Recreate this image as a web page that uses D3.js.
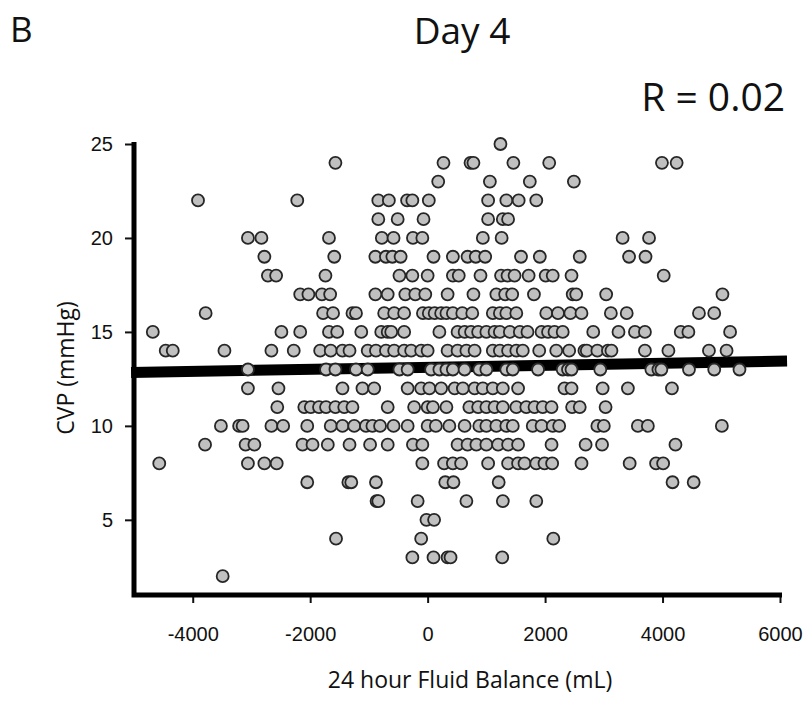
<!DOCTYPE html>
<html>
<head>
<meta charset="utf-8">
<script src="https://cdn.jsdelivr.net/npm/d3@7"></script>
<style>
  body { margin: 0; background: #fff; }
  text { fill: #111; }
</style>
</head>
<body>
<div id="chart"></div>
<script>

// CVP levels (mmHg) and the fluid balance (mL) of every point on each level
var cvpLevels = [25, 24, 23, 22, 21, 20, 19, 18, 17, 16, 15, 14, 13, 12, 11, 10, 9, 8, 7, 6, 5, 4, 3, 2]
var fluidByLevel = [
  [1240],
  [-1570, 270, 730, 780, 1460, 2070, 3990, 4240],
  [180, 1060, 1740, 2490],
  [-3910, -2220, -840, -660, -350, -260, 20, 1030, 1340, 1550, 1850],
  [-840, -510, -70, 1030, 1280, 1370],
  [-3060, -2830, -1680, -780, -580, -250, -90, 940, 1260, 3320, 3770],
  [-2780, -1590, -890, -710, -600, -460, 100, 430, 680, 820, 980, 1590, 1910, 2590, 3430, 3710],
  [-2720, -2580, -1740, -480, -260, 0, 430, 530, 900, 1250, 1360, 1480, 1720, 2010, 2130, 2450, 4020],
  [-2170, -2030, -1800, -1660, -890, -680, -380, -210, -40, 340, 780, 1170, 1320, 1440, 1810, 2470, 2530, 3040, 5020],
  [-3780, -1780, -1610, -1280, -1220, -740, -570, -400, -80, 20, 120, 230, 320, 430, 590, 760, 1110, 1230, 1340, 1510, 2020, 2220, 2430, 2620, 3120, 3390, 4620, 4880],
  [-4680, -2490, -2170, -1680, -1540, -1130, -790, -680, -620, -400, 200, 510, 630, 740, 860, 1000, 1140, 1230, 1400, 1570, 1700, 1940, 2050, 2160, 2300, 2820, 3250, 3530, 3700, 4310, 4440, 5150],
  [-4460, -4340, -3460, -2660, -2280, -1830, -1650, -1450, -1330, -1020, -880, -710, -570, -400, -280, -110, 0, 340, 510, 660, 800, 1110, 1230, 1370, 1510, 1620, 1900, 2190, 2410, 2670, 2710, 2890, 3070, 3130, 3700, 4100, 4790, 5090],
  [-3060, -1730, -1570, -1220, -1020, -480, -340, 60, 200, 320, 430, 630, 880, 1000, 1340, 1450, 1880, 2300, 2390, 2450, 2940, 3810, 3930, 3980, 4450, 4880, 5310],
  [-3060, -2540, -1450, -1110, -910, -340, -110, 30, 230, 460, 600, 800, 940, 1110, 1280, 1540, 2330, 2450, 2980, 3410, 4160],
  [-2560, -2100, -1990, -1850, -1730, -1570, -1420, -1280, -680, -230, 0, 90, 320, 710, 860, 1000, 1140, 1280, 1510, 1680, 1820, 1960, 2110, 2460, 2590, 3030],
  [-3520, -3210, -3150, -2660, -2460, -2050, -1650, -1450, -1250, -1050, -940, -810, -580, -340, 0, 140, 370, 630, 880, 1000, 1170, 1340, 1450, 1790, 1940, 2130, 2240, 2890, 3000, 3580, 3750, 5010],
  [-3790, -3100, -2950, -2130, -1960, -1700, -1330, -980, -680, -250, -90, 510, 680, 830, 1000, 1200, 1370, 1540, 2110, 2690, 2970, 4220],
  [-4570, -3060, -2780, -2570, -90, 280, 430, 570, 1030, 1370, 1540, 1650, 1850, 1990, 2120, 2620, 3440, 3890, 4010],
  [-2050, -1350, -1300, -880, 300, 440, 1210, 4170, 4530],
  [-870, -840, -170, 660, 1280, 1850],
  [-20, 110],
  [-1560, -110, 2140],
  [-260, 100, 340, 390, 1270],
  [-3490]
]

// regression line end points
var fitX = [-5050, 6120]
var fitY = [12.84, 13.45]

var xTicks = [-4000, -2000, 0, 2000, 4000, 6000]
var yTicks = [5, 10, 15, 20, 25]

var width = 809
var height = 702

// flatten into point records
var points = []
cvpLevels.forEach(function(v, i) {
  fluidByLevel[i].forEach(function(f) { points.push({ fluid: f, cvp: v }) })
})

var svg = d3.select("#chart")
  .append("svg")
    .attr("width", width)
    .attr("height", height)

var x = d3.scaleLinear()
  .domain([-5000, 6000])
  .range([134, 780])

var y = d3.scaleLinear()
  .domain([1, 25])
  .range([595, 144])

var tickFont = "'Liberation Sans', Arial, sans-serif"
var labelFont = "'Open Sans', 'Noto Sans', sans-serif"
var plain = function(d) { return String(d) }

// x axis
var xAxis = svg.append("g")
  .attr("transform", "translate(0," + 595 + ")")
  .call(d3.axisBottom(x).tickValues(xTicks).tickFormat(plain).tickSize(8).tickPadding(24))
xAxis.select(".domain").remove()
xAxis.selectAll(".tick line").attr("stroke", "#111").attr("stroke-width", 2)
xAxis.selectAll(".tick text")
  .style("font-family", tickFont)
  .style("font-size", "20px")
  .attr("fill", "#222")

// y axis
var yAxis = svg.append("g")
  .attr("transform", "translate(" + 134 + ",0)")
  .call(d3.axisLeft(y).tickValues(yTicks).tickFormat(plain).tickSize(9).tickPadding(12))
yAxis.select(".domain").remove()
yAxis.selectAll(".tick line").attr("stroke", "#111").attr("stroke-width", 2)
yAxis.selectAll(".tick text")
  .style("font-family", tickFont)
  .style("font-size", "20px")
  .attr("fill", "#222")

// thick axis lines
svg.append("path")
  .attr("d", "M" + x(-5000) + "," + y(25.1) + "V" + y(1) + "H" + (x(6000) + 2))
  .attr("fill", "none")
  .attr("stroke", "#000")
  .attr("stroke-width", 5)

// regression line
svg.append("line")
  .attr("x1", x(fitX[0]))
  .attr("y1", y(fitY[0]))
  .attr("x2", x(fitX[1]))
  .attr("y2", y(fitY[1]))
  .attr("stroke", "#000")
  .attr("stroke-width", 11)

// points
svg.append("g")
  .selectAll("circle")
  .data(points)
  .enter()
  .append("circle")
    .attr("cx", function(d) { return x(d.fluid) })
    .attr("cy", function(d) { return y(d.cvp) })
    .attr("r", 6)
    .style("fill", "#c0c0c0")
    .attr("stroke", "#262626")
    .style("stroke-width", 1.8)

// titles and labels
svg.append("text")
  .attr("x", 10)
  .attr("y", 42)
  .style("font-family", labelFont)
  .style("font-size", "35px")
  .text("B")

svg.append("text")
  .attr("x", 462)
  .attr("y", 44)
  .attr("text-anchor", "middle")
  .style("font-family", labelFont)
  .style("font-size", "37px")
  .text("Day 4")

svg.append("text")
  .attr("x", 785)
  .attr("y", 111)
  .attr("text-anchor", "end")
  .style("font-family", labelFont)
  .style("font-size", "39px")
  .text("R = 0.02")

svg.append("text")
  .attr("x", 470)
  .attr("y", 688)
  .attr("text-anchor", "middle")
  .style("font-family", labelFont)
  .style("font-size", "23px")
  .text("24 hour Fluid Balance (mL)")

svg.append("text")
  .attr("transform", "translate(" + 74 + "," + 368 + ") rotate(-90)")
  .attr("text-anchor", "middle")
  .style("font-family", labelFont)
  .style("font-size", "23px")
  .text("CVP (mmHg)")

</script>
</body>
</html>
